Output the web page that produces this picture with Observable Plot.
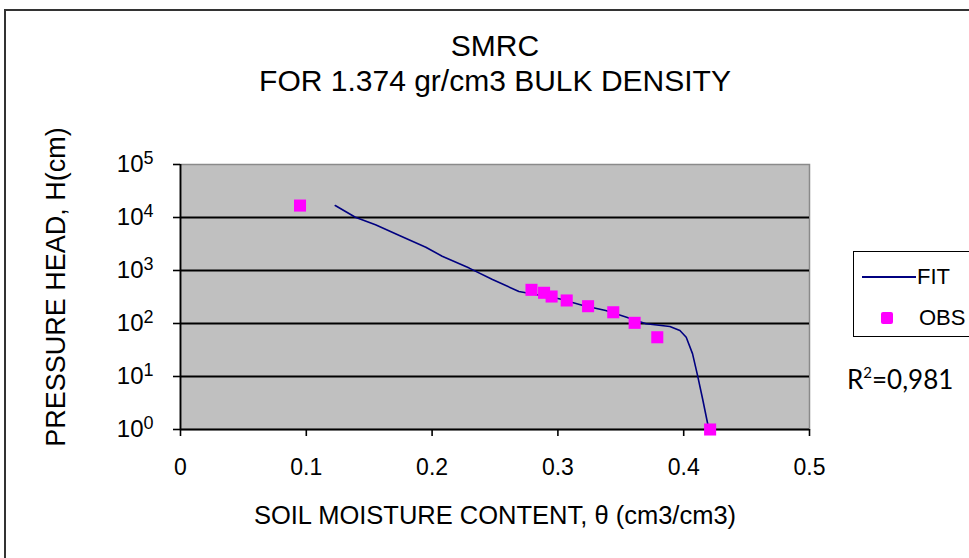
<!DOCTYPE html>
<html>
<head>
<meta charset="utf-8">
<script src="https://cdn.jsdelivr.net/npm/d3@7"></script>
<script src="https://cdn.jsdelivr.net/npm/@observablehq/plot@0.6"></script>
<style>
  html, body { margin: 0; padding: 0; background: #fff; overflow: hidden; width: 969px; height: 558px; }
  #wrap { position: relative; width: 969px; height: 558px; }
  #border { position: absolute; left: 4px; top: 9px; width: 1000px; height: 600px; border: 2px solid #333; box-sizing: border-box; }
  #chart { position: absolute; left: 0; top: 0; }
  #legend { position: absolute; left: 853px; top: 251px; width: 130px; height: 86px; border: 1.5px solid #000; box-sizing: border-box; background: #fff; font-family: "Liberation Sans", Arial, sans-serif; font-size: 22px; }
  #legend .row { position: absolute; left: 0; height: 26px; line-height: 26px; }
  #legend .ln { position: absolute; left: 8px; width: 54px; height: 0; border-top: 2px solid #000080; top: 12px; }
  #legend .sq { position: absolute; left: 27px; top: 7px; width: 12px; height: 12px; background: #ff00ff; border-radius: 2px; }
  #legend .lbl { position: absolute; left: 63px; top: 0; }
  #r2 { position: absolute; left: 847px; top: 363px; font-family: Lato, "Open Sans", sans-serif; font-size: 26px; color: #000; }
  #r2 sup { font-size: 15px; vertical-align: 11px; line-height: 0; }
</style>
</head>
<body>
<div id="wrap">
  <div id="border"></div>
  <div id="chart"></div>
  <div id="legend">
    <div class="row" style="top:12px;"><div class="ln"></div><div class="lbl" style="left:63px;">FIT</div></div>
    <div class="row" style="top:53px;"><div class="sq"></div><div class="lbl" style="left:65px;">OBS</div></div>
  </div>
  <div id="r2">R<sup>2</sup>=0,981</div>
</div>
<script>
// Observed data
const obsTheta = [0.095, 0.279, 0.289, 0.295, 0.307, 0.324, 0.344, 0.361, 0.379, 0.421];
const obsHead  = [16800, 432, 380, 323, 272, 212, 163, 103, 55, 1];

// Fitted curve
const fitTheta = [0.123, 0.139, 0.155, 0.174, 0.195, 0.208, 0.2295, 0.248, 0.269, 0.301, 0.320, 0.338, 0.354, 0.370, 0.389, 0.397, 0.402, 0.407, 0.411, 0.415, 0.420];
const fitHead  = [16800, 10100, 7280, 4570, 2750, 1860, 1110, 676, 402, 292, 219, 176, 132, 99, 88, 74, 55, 27, 10.5, 3.8, 1];

// Axis ticks and labels
const xTicks = [0, 0.1, 0.2, 0.3, 0.4, 0.5];
const yTicks = [1, 10, 100, 1000, 10000, 100000];
const gridTicks = [10, 100, 1000, 10000];
const titleLines = ["SMRC", "FOR 1.374 gr/cm3 BULK DENSITY"];
const xLabel = "SOIL MOISTURE CONTENT, θ (cm3/cm3)";
const yLabel = "PRESSURE HEAD, H(cm)";

const obs = obsTheta.map((t, i) => ({theta: t, head: obsHead[i]}));
const fit = fitTheta.map((t, i) => ({theta: t, head: fitHead[i]}));

const chart = Plot.plot({
  width: 969,
  height: 558,
  marginLeft: 180,
  marginRight: 160,
  marginTop: 164,
  marginBottom: 129,
  style: {fontFamily: "'Liberation Sans', Arial, sans-serif", fontSize: "23px", background: "transparent", color: "#000", overflow: "visible"},
  x: {domain: [0, 0.5]},
  y: {type: "log", domain: [1, 100000]},
  marks: [
    Plot.frame({fill: "#c0c0c0", stroke: "#8a8a8a", strokeWidth: 1.5}),
    Plot.gridY(gridTicks, {stroke: "#000", strokeOpacity: 1, strokeWidth: 1.8}),
    Plot.ruleY([1], {stroke: "#000", strokeWidth: 1.8}),
    Plot.ruleX([0], {stroke: "#000", strokeWidth: 1.8}),
    Plot.axisX({ticks: xTicks, tickSize: 7, tickPadding: 22, tickFormat: d => String(d), label: null, strokeWidth: 1.6}),
    Plot.axisY({ticks: yTicks, tickSize: 7, tickPadding: 20, tickFormat: d => "10^" + Math.round(Math.log10(d)), label: null, strokeWidth: 1.6, fontSize: 24}),
    Plot.line(fit, {x: "theta", y: "head", stroke: "#000080", strokeWidth: 1.6}),
    Plot.dot(obs, {x: "theta", y: "head", symbol: "square", r: 6.8, fill: "#ff00ff", stroke: "none"}),
    Plot.text([titleLines[0]], {text: d => d, frameAnchor: "top", lineAnchor: "middle", dy: -118, fontSize: 30}),
    Plot.text([titleLines[1]], {text: d => d, frameAnchor: "top", lineAnchor: "middle", dy: -83, fontSize: 30}),
    Plot.text([xLabel], {text: d => d, frameAnchor: "bottom", lineAnchor: "middle", dy: 86, fontSize: 25.5}),
    Plot.text([yLabel], {text: d => d, frameAnchor: "left", textAnchor: "middle", lineAnchor: "middle", dx: -124, dy: -10, rotate: -90, fontSize: 27})
  ]
});

// Render y tick labels as 10 with a raised exponent
d3.select(chart).selectAll('g[aria-label="y-axis tick label"] text').each(function() {
  const s = this.textContent;
  if (!s.startsWith("10^")) return;
  const exp = s.slice(3);
  const t = d3.select(this);
  t.text(null);
  t.append("tspan").text("10");
  t.append("tspan").attr("font-size", "0.75em").attr("dy", "-0.45em").text(exp);
});

document.getElementById("chart").appendChild(chart);
</script>
</body>
</html>
